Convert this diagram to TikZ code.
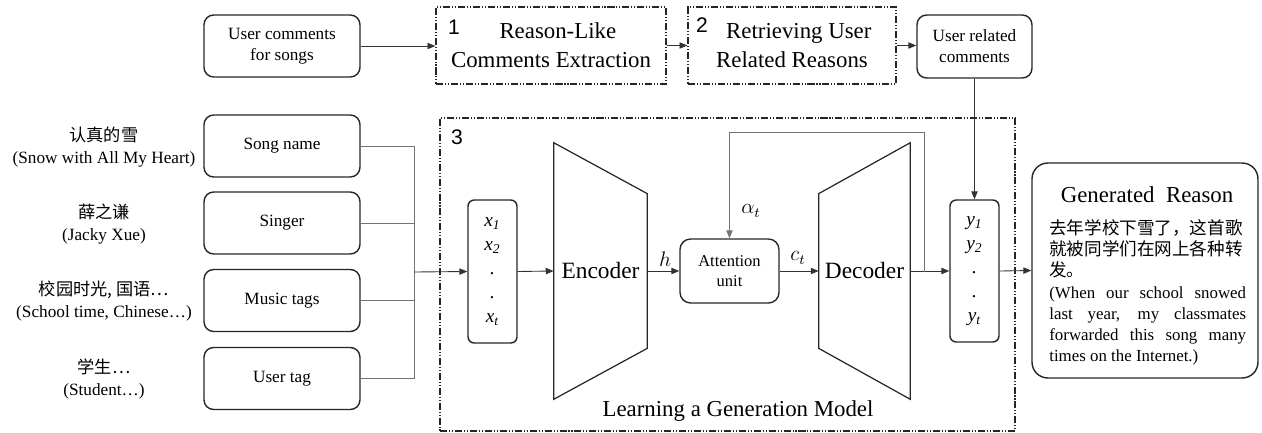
\documentclass[tikz,border=0pt]{standalone}
\usepackage{fontspec}
\setmainfont{Liberation Serif}
\newfontfamily\cjk{Noto Sans CJK SC}
\newfontfamily\numfont{Liberation Sans}
\usetikzlibrary{arrows.meta,calc}
\begin{document}
\begin{tikzpicture}[x=0.02cm,y=-0.02cm,
  >={Triangle[length=4.5pt,width=3.6pt]},
  rbox/.style={draw=black!85,line width=0.8pt,rounded corners=5.5pt,align=center,inner sep=0pt,
    font=\fontsize{9.8}{12}\selectfont},
  stagebox/.style={draw=black!85,line width=0.7pt,
    dash pattern=on 4pt off 1.1pt on 0.6pt off 1.1pt on 0.6pt off 1.1pt,
    align=center,inner sep=0pt,font=\fontsize{13}{16.5}\selectfont},
  vecbox/.style={draw=black!85,line width=0.8pt,rounded corners=3.5pt,align=center,inner sep=0pt,
    font=\fontsize{11}{13.6}\selectfont\itshape},
  conn/.style={line width=0.5pt,black!80},
  bus/.style={line width=0.5pt,black!55},
  numlab/.style={font=\numfont\fontsize{12}{12}\selectfont,inner sep=0pt},
  sidelab/.style={align=center,inner sep=0pt,font=\fontsize{9.8}{12.5}\selectfont},
  mathlab/.style={inner sep=0pt,font=\fontsize{12}{12}\selectfont}]
\useasboundingbox (0,0) rectangle (1262,433);

% ---- top row: comment mining pipeline ----
\node[rbox,minimum width=3.12cm,minimum height=1.24cm] (ucs) at (282,46) {User comments\\for songs};
\node[stagebox,minimum width=4.6cm,minimum height=1.54cm] (s1) at (551,45.5) {\hspace*{0.6em}Reason-Like\\Comments\ Extraction};
\node[stagebox,minimum width=4.16cm,minimum height=1.54cm] (s2) at (792,45.5) {\hspace*{0.6em}Retrieving\ User\\Related\ Reasons};
\node[rbox,minimum width=2.3cm,minimum height=1.26cm] (urc) at (974.5,46.5) {User related\\comments};
\node[numlab] (n1) at (454,27) {1};
\node[numlab] (n2) at (702,25) {2};

\draw[conn,->] (ucs.east) -- (ucs.east -| s1.west);
\draw[conn,->] (s1.east) -- (s1.east -| s2.west);
\draw[conn,->] (s2.east) -- (s2.east -| urc.west);

% ---- song attributes ----
\node[sidelab] (lab1) at (104,147) {{\cjk 认真的雪}\\(Snow with All My Heart)};
\node[sidelab] (lab2) at (104,224) {{\cjk 薛之谦}\\(Jacky Xue)};
\node[sidelab] (lab3) at (104,301.5) {{\cjk 校园时光, 国语…}\\(School time, Chinese…)};
\node[sidelab] (lab4) at (104,379) {{\cjk 学生…}\\(Student…)};

\node[rbox,minimum width=3.12cm,minimum height=1.24cm] (song) at (282,146) {Song name};
\node[rbox,minimum width=3.12cm,minimum height=1.24cm] (singer) at (282,223) {Singer};
\node[rbox,minimum width=3.12cm,minimum height=1.24cm] (tags) at (282,300.5) {Music tags};
\node[rbox,minimum width=3.12cm,minimum height=1.24cm] (utag) at (282,378.5) {User tag};

\coordinate (busmid) at (414,272);
\draw[bus] (song.east) -- (song.east -| busmid);
\draw[bus] (singer.east) -- (singer.east -| busmid);
\draw[bus] (tags.east) -- (tags.east -| busmid);
\draw[bus] (utag.east) -- (utag.east -| busmid);
\draw[bus] (song.east -| busmid) -- (utag.east -| busmid);

% ---- generation model ----
\node[draw=black!85,line width=0.7pt,
  dash pattern=on 4pt off 1.1pt on 0.6pt off 1.1pt on 0.6pt off 1.1pt,
  minimum width=11.5cm,minimum height=6.26cm,inner sep=0pt] (s3) at (727.5,274.5) {};
\node[numlab] (n3) at (457,137) {3};
\node[inner sep=0pt,font=\fontsize{13}{13}\selectfont] (learn) at (738,411) {Learning a Generation Model};

\node[vecbox,minimum width=0.98cm,minimum height=2.86cm] (xbox) at (492.5,271.5)
  {\raisebox{0pt}{x\textsubscript{1}}\\x\textsubscript{2}\\.\\.\\x\textsubscript{t}};

\node[inner sep=0pt,minimum width=1.86cm,minimum height=5.12cm,font=\fontsize{13.3}{14}\selectfont] (enc) at (600.5,271) {Encoder};
\draw[line width=0.7pt,black!85] (enc.north west) -- ($(enc.north east)+(0,51)$)
  -- ($(enc.south east)+(0,-51)$) -- (enc.south west) -- cycle;

\node[rbox,rounded corners=6pt,minimum width=1.98cm,minimum height=1.28cm,
  font=\fontsize{9.4}{11.3}\selectfont] (att) at (729.5,271) {Attention\\unit};

\node[inner sep=0pt,minimum width=1.82cm,minimum height=5.12cm,font=\fontsize{13.3}{14}\selectfont] (dec) at (864.5,271) {Decoder};
\draw[line width=0.7pt,black!85] ($(dec.north west)+(0,51)$) -- (dec.north east)
  -- (dec.south east) -- ($(dec.south west)+(0,-51)$) -- cycle;

\node[vecbox,minimum width=0.98cm,minimum height=2.84cm] (ybox) at (974.5,271)
  {y\textsubscript{1}\\y\textsubscript{2}\\.\\.\\y\textsubscript{t}};

\draw[conn,->] (busmid) -- (xbox.west);
\draw[conn,->] (xbox.east) -- (enc.west);
\draw[conn,->] (enc.east) -- (att.west);
\draw[conn,->] (att.east) -- (dec.west);
\draw[conn,->] (dec.east) -- (ybox.west);
\node[mathlab] (hlab) at (665,259) {$h$};
\node[mathlab] (ctlab) at (798,258) {$c_t$};

% attention feedback from the decoder output
\coordinate (fb) at (924,272);
\coordinate (fbtop) at (924,132);
\draw[bus,->] (fb) -- (fbtop) -| (att.north);
\node[mathlab] (alab) at (751,211) {$\alpha_t$};

% comments feed the decoder output
\draw[conn,->] (urc.south) -- (ybox.north);

% ---- generated reason ----
\node[draw=black!85,line width=0.8pt,rounded corners=9pt,minimum width=4.52cm,minimum height=4.3cm,
  inner sep=0pt] (gr) at (1145,270.5) {};
\draw[conn,->] (ybox.east) -- (gr.west);
\node[inner sep=0pt,font=\fontsize{13}{13}\selectfont] (grtitle) at (1147,195) {Generated\ \ Reason};
\node[anchor=north west,inner sep=0pt,text width=112pt,align=justify,
  font=\fontsize{9.6}{12.1}\selectfont] (grtext) at (1049,219)
  {{\cjk\fontsize{10}{12.4}\selectfont 去年学校下雪了，这首歌}\\
   {\cjk\fontsize{10}{12.4}\selectfont 就被同学们在网上各种转}\\
   {\cjk\fontsize{10}{12.4}\selectfont 发。}\\
   (When our school snowed\linebreak last year, my classmates\linebreak forwarded this song many\linebreak times on the Internet.)};
\end{tikzpicture}
\end{document}
